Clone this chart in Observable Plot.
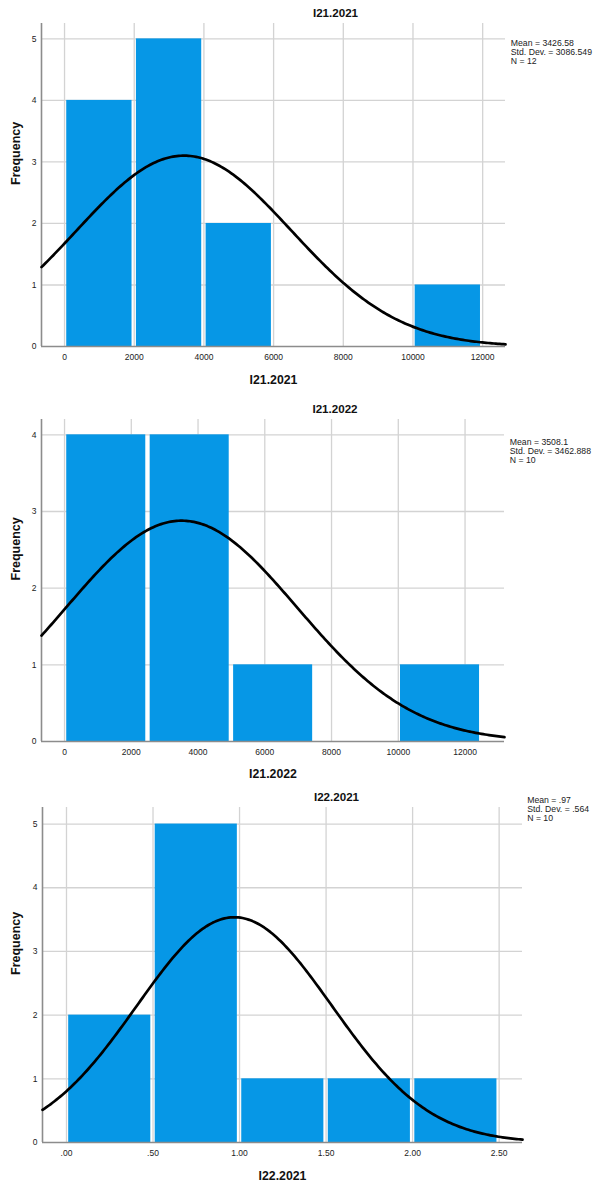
<!DOCTYPE html>
<html>
<head>
<meta charset="utf-8">
<script src="https://cdn.jsdelivr.net/npm/d3@7"></script>
<script src="https://cdn.jsdelivr.net/npm/@observablehq/plot@0.6"></script>
<style>
  html, body { margin: 0; padding: 0; background: white; overflow: hidden; }
  #root { width: 596px; }
  #root svg { display: block; }
</style>
</head>
<body>
<div id="root"></div>
<script>
// ---------- data ----------
const titles = ["I21.2021", "I21.2022", "I22.2021"];

// histogram bin edges and counts
const edges1 = [0, 2000, 4000, 6000, 8000, 10000, 12000];
const counts1 = [4, 5, 2, 0, 0, 1];
const edges2 = [0, 2500, 5000, 7500, 10000, 12500];
const counts2 = [4, 4, 1, 0, 1];
const edges3 = [0, 0.5, 1.0, 1.5, 2.0, 2.5];
const counts3 = [2, 5, 1, 1, 1];

// summary statistics shown in each chart
const means = [3426.58, 3508.1, 0.97];
const sds = [3086.549, 3462.888, 0.564];
const ns = [12, 10, 10];
const meanLabels = ["3426.58", "3508.1", ".97"];
const sdLabels = ["3086.549", "3462.888", ".564"];

// tick values and labels
const xTicks1 = [0, 2000, 4000, 6000, 8000, 10000, 12000];
const xLabels1 = ["0", "2000", "4000", "6000", "8000", "10000", "12000"];
const xTicks2 = [0, 2000, 4000, 6000, 8000, 10000, 12000];
const xLabels2 = ["0", "2000", "4000", "6000", "8000", "10000", "12000"];
const xTicks3 = [0, 0.5, 1.0, 1.5, 2.0, 2.5];
const xLabels3 = [".00", ".50", "1.00", "1.50", "2.00", "2.50"];
const yTicks1 = [0, 1, 2, 3, 4, 5];
const yTicks2 = [0, 1, 2, 3, 4];
const yTicks3 = [0, 1, 2, 3, 4, 5];

// ---------- layout ----------
const FONT = "'Liberation Sans', Arial, Helvetica, sans-serif";
const BAR = "#0697e6";
const GRID = "#d3d3d3";
const AXIS = "#8c8c8c";

const layouts = [
  {height: 392, mt: 23, mb: 46, ml: 41, mr: 91, xDomain: [-661, 12655], yDomain: [0, 5.25],
   titleDx: 62, titleDy: -10.5, statsDx: 5.3, statsDy: 16.4, freqDx: -26, axisDy: 33.3},
  {height: 393, mt: 27, mb: 44, ml: 41, mr: 92, xDomain: [-690, 13182], yDomain: [0, 4.2],
   titleDx: 62, titleDy: -10.7, statsDx: 5.3, statsDy: 19.4, freqDx: -26, axisDy: 33},
  {height: 402, mt: 22, mb: 45, ml: 42, mr: 74, xDomain: [-0.1386, 2.635], yDomain: [0, 5.26],
   titleDx: 54, titleDy: -10.7, statsDx: 4.7, statsDy: -10.8, freqDx: -27, axisDy: 34}
];

const edgesAll = [edges1, edges2, edges3];
const countsAll = [counts1, counts2, counts3];
const xTicksAll = [xTicks1, xTicks2, xTicks3];
const xLabelsAll = [xLabels1, xLabels2, xLabels3];
const yTicksAll = [yTicks1, yTicks2, yTicks3];

function makeChart(i) {
  const L = layouts[i];
  const edges = edgesAll[i], counts = countsAll[i];
  const bins = counts.map((c, k) => ({x1: edges[k], x2: edges[k + 1], count: c})).filter(d => d.count > 0);
  const binWidth = edges[1] - edges[0];
  const mu = means[i], sd = sds[i], n = ns[i];
  // normal curve implied by the displayed Mean / Std. Dev. / N
  const xs = d3.range(0, 241).map(k => L.xDomain[0] + (L.xDomain[1] - L.xDomain[0]) * k / 240);
  const curve = xs.map(x => ({x, y: n * binWidth * Math.exp(-0.5 * ((x - mu) / sd) ** 2) / (sd * Math.sqrt(2 * Math.PI))}));
  const xTicks = xTicksAll[i], xLabels = xLabelsAll[i], yTicks = yTicksAll[i];
  const stats = `Mean = ${meanLabels[i]}\nStd. Dev. = ${sdLabels[i]}\nN = ${ns[i]}`;

  return Plot.plot({
    width: 596,
    height: L.height,
    marginTop: L.mt, marginBottom: L.mb, marginLeft: L.ml, marginRight: L.mr,
    style: {fontFamily: FONT, fontSize: "8.5px", color: "#222", background: "white", overflow: "visible"},
    x: {type: "linear", domain: L.xDomain, ticks: xTicks, tickFormat: d => xLabels[xTicks.indexOf(d)],
        tickSize: 0, tickPadding: 7, label: null},
    y: {type: "linear", domain: L.yDomain, ticks: yTicks, tickFormat: d => String(d),
        tickSize: 0, tickPadding: 5, label: null},
    marks: [
      Plot.ruleX(xTicks, {stroke: GRID, strokeWidth: 1.3}),
      Plot.ruleY(yTicks.filter(d => d > 0), {stroke: GRID, strokeWidth: 1.3}),
      Plot.rectY(bins, {x1: "x1", x2: "x2", y: "count", fill: BAR, insetLeft: 2.2, insetRight: 2.2}),
      Plot.ruleY([0], {stroke: AXIS, strokeWidth: 1.6}),
      Plot.ruleX([L.xDomain[0]], {stroke: AXIS, strokeWidth: 1.6}),
      Plot.line(curve, {x: "x", y: "y", stroke: "black", strokeWidth: 2.7, curve: "linear"}),
      Plot.text([titles[i]], {text: d => d, frameAnchor: "top", dx: L.titleDx, dy: L.titleDy,
        lineAnchor: "middle", fontSize: 11.6, fontWeight: "bold", fill: "#111"}),
      Plot.text([titles[i]], {text: d => d, frameAnchor: "bottom", dy: L.axisDy,
        lineAnchor: "middle", fontSize: 12.3, fontWeight: "bold", fill: "#111"}),
      Plot.text(["Frequency"], {text: d => d, frameAnchor: "left", dx: L.freqDx, rotate: -90,
        lineAnchor: "middle", fontSize: 12.5, fontWeight: "bold", fill: "#111"}),
      Plot.text([stats], {text: d => d, frameAnchor: "top-right", dx: L.statsDx, dy: L.statsDy,
        textAnchor: "start", lineAnchor: "top", lineHeight: 1.03, fontSize: 8.7, fill: "#222"})
    ]
  });
}

const root = document.getElementById("root");
for (let i = 0; i < 3; i++) root.appendChild(makeChart(i));
</script>
</body>
</html>
